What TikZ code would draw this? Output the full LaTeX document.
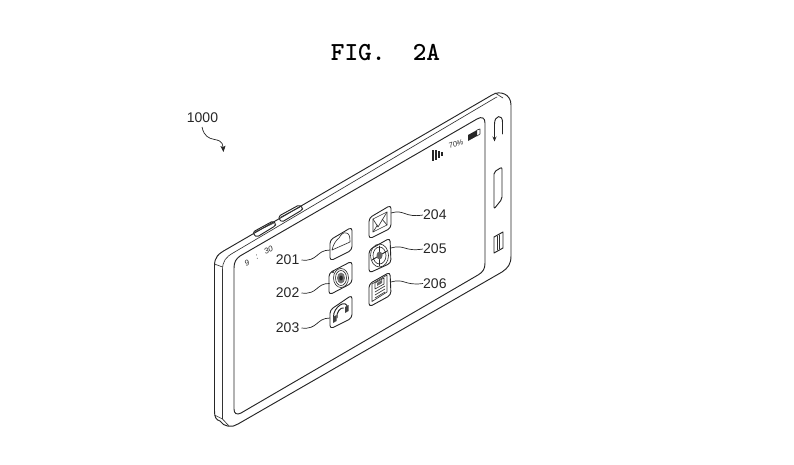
\documentclass[tikz,border=0pt]{standalone}
\usepackage{fontspec}
\setmainfont{Liberation Sans}
\usetikzlibrary{arrows.meta}
\tikzset{
 ln/.style={line width=0.95pt,black!85,line join=round,line cap=round},
 thin ln/.style={line width=0.65pt,black!80,line join=round,line cap=round},
 lab/.style={font=\fontsize{14}{16}\selectfont,inner sep=0pt,text=black!85},
 ldr/.style={line width=0.7pt,black!85},
 iconbox/.style={line width=0.9pt,black!85,rounded corners=3.5pt},
 stat/.style={font=\itshape\fontsize{8}{9}\selectfont,inner sep=0pt,text=black!85},
}
\begin{document}
\begin{tikzpicture}[x=1pt,y=-1pt]
\useasboundingbox (0,0) rectangle (794,464);
\node[inner sep=0pt,font=\ttfamily\bfseries\fontsize{26}{28}\selectfont] (title) at (385.5,53) {FIG.\ \ 2A};
% body outer
\draw[ln] (227,249) -- (492,95)
  .. controls (500,90) and (511,94) .. (511,105) -- (511,256)
  .. controls (511,264) and (508,268) .. (502,272) -- (238,424)
  .. controls (232,428) and (224,427) .. (220,421)
  .. controls (216,420) and (214.5,417) .. (214.5,411) -- (214.5,266)
  .. controls (214.5,257) and (218,254) .. (227,249) -- cycle;
% second edge line and facets
\draw[thin ln] (495,98) -- (233,253) .. controls (226,257) and (222.5,261) .. (222.5,270) -- (222.5,419);
\draw[thin ln] (495,93) -- (503,98);
\draw[thin ln] (495,98) -- (497,97);
\draw[thin ln] (214.5,264) -- (222.5,267);
\draw[thin ln] (214.5,415) -- (222.5,419) -- (229,426);
% screen
\draw[ln] (234,268) .. controls (234,262) and (236,259) .. (240,256) -- (477,119)
  .. controls (482,116) and (485,118) .. (485,123) -- (485,263)
  .. controls (485,269) and (483,272) .. (478,275) -- (241,413)
  .. controls (237,415) and (234,414) .. (234,409) -- cycle;
% side buttons
\draw[ln,rounded corners=1.5pt] (253,232) -- (273,221) -- (276,224) -- (275,226) -- (257,237) -- (254,235) -- cycle;
\draw[ln,rounded corners=1.5pt] (279,216) -- (299,205) -- (303,208) -- (302,210) -- (282,222) -- (279,219) -- cycle;
\draw[thin ln] (255,232) -- (274,223);
\draw[thin ln] (281,217) -- (300,207);
% right controls
\draw[ln] (494.5,130) -- (494.5,124) .. controls (494.5,115) and (502.5,114) .. (502.5,122) -- (502.5,134);
\draw[-{Stealth[length=5pt,width=4pt]},line width=0.9pt,black!85] (494.5,129) -- (494.5,141.5);
\draw[ln,rounded corners=2pt] (494,172) -- (502,167) -- (502,199) -- (494,209) -- cycle;
\draw[ln] (494,237) -- (503,232) -- (503,248) -- (494,253) -- cycle;
\draw[thin ln] (497,236) -- (497,250) (499.5,235) -- (499.5,249);
% status
\node[stat,rotate=25] (clock) at (247,263) {9};
\node[stat,rotate=25] (clock2) at (257,257) {:};
\node[stat,rotate=25] (clock3) at (268.5,250) {30};
\node[stat,font=\itshape\fontsize{7.5}{8}\selectfont,rotate=20] (pct) at (456,144) {70\%};
\fill[black!85] (468,135) -- (477,130) -- (477,136) -- (468,141) -- cycle;
\draw[thin ln] (477,130) -- (480,129) -- (480,134) -- (477,136);
\fill[black!85] (431.5,150) rectangle (433.5,161);
\fill[black!85] (434.5,150) rectangle (436.5,160);
\fill[black!85] (437.5,151) rectangle (439.5,158);
\fill[black!85] (440.5,152) rectangle (443,156);
% icons
\draw[iconbox] (330,240) -- (352,227) -- (352,250) -- (330,261) -- cycle;
\draw[iconbox] (329,273) -- (352,261) -- (352,283) -- (329,295) -- cycle;
\draw[iconbox] (330,310) -- (352,295) -- (352,318) -- (330,329) -- cycle;
\draw[iconbox] (369,218) -- (391,205) -- (391,228) -- (369,239) -- cycle;
\draw[iconbox] (369,250) -- (390,238) -- (391,263) -- (369,273) -- cycle;
\draw[iconbox] (369,284) -- (390,272) -- (391,295) -- (369,307) -- cycle;
% cloud
\draw[thin ln] (332,250) .. controls (333,245) and (336,240) .. (339,238) .. controls (341,234) and (344,232) .. (346,233) .. controls (349,233) and (350,236) .. (350,242) -- cycle;
% target
\draw[thin ln] (341,278) circle[x radius=7.5pt,y radius=9.5pt];
\draw[thin ln] (341,278) circle[x radius=5.5pt,y radius=7.5pt];
\fill[black!55] (341,278) circle[x radius=4pt,y radius=5.5pt];
\fill[black!85] (341,278) circle[x radius=1.8pt,y radius=2.5pt];
\draw[thin ln] (333,272) circle[radius=1pt];
% headphones
\draw[ln] (333.5,317) .. controls (333,307) and (347,298) .. (347.5,308);
\draw[ln] (337,318) .. controls (336,312) and (341,307) .. (343.5,308);
\fill[black!75] (333,317) -- (336.5,315) -- (336.5,321) -- (333,323) -- cycle;
\fill[black!75] (345,307) -- (348.5,305) -- (348.5,311) -- (345,313) -- cycle;
% envelope
\draw[thin ln] (373,219) -- (387,212) -- (387,225) -- (373,232) -- cycle;
\draw[thin ln] (373,219) -- (378,227) -- (387,212);
\draw[thin ln] (373,232) -- (377.5,225) (387,225) -- (382,219);
% compass
\draw[thin ln] (379.5,255.5) circle[x radius=9pt,y radius=11.5pt];
\draw[thin ln] (379.5,255.5) circle[x radius=6.5pt,y radius=8.5pt];
\draw[ln] (372,260) -- (387,251) (379.5,246) -- (379.5,266);
\fill[black!60] (379.5,255.5) circle[x radius=3pt,y radius=4pt];
% news
\draw[thin ln] (372,284) -- (387,275) -- (387,292) -- (372,301.5) -- cycle;
\draw[thin ln] (375,283) -- (384,278) -- (384,284) -- (375,289) -- cycle;
\fill[black!60] (377,283) -- (382,280) -- (382,283) -- (377,286) -- cycle;
\draw[thin ln] (375,292) -- (385,286) (375,295) -- (385,289) (375,298) -- (385,292);
% labels
\node[lab,anchor=east] (l201) at (299.5,260) {201};
\node[lab,anchor=east] (l202) at (299.5,293) {202};
\node[lab,anchor=east] (l203) at (299.5,328) {203};
\node[lab,anchor=west] (l204) at (423,215) {204};
\node[lab,anchor=west] (l205) at (423,249) {205};
\node[lab,anchor=west] (l206) at (423,283.5) {206};
\node[lab,anchor=center] (l1000) at (202.5,117.5) {1000};
\coordinate (a1) at (330,250);
\coordinate (a2) at (329.5,283.5);
\coordinate (a3) at (330,318);
\coordinate (a4) at (391,213);
\coordinate (a5) at (391,248);
\coordinate (a6) at (391,282);
\coordinate (arr0) at (202,127);
\coordinate (arr1) at (223.5,152);
\draw[ldr] (l201.east) ++(2,0) .. controls (318,262) and (316,250) .. (a1);
\draw[ldr] (l202.east) ++(2,0) .. controls (318,295) and (316,283) .. (a2);
\draw[ldr] (l203.east) ++(2,0) .. controls (318,330) and (316,318) .. (a3);
\draw[ldr] (a4) .. controls (405,209) and (404,218) .. (l204.west);
\draw[ldr] (a5) .. controls (405,244) and (404,252) .. (l205.west);
\draw[ldr] (a6) .. controls (405,278) and (404,286) .. (l206.west);
\draw[ldr,-{Stealth[length=6pt,width=5pt,inset=1pt]}] (arr0) .. controls (206,146) and (222,134) .. (arr1);
\end{tikzpicture}
\end{document}
